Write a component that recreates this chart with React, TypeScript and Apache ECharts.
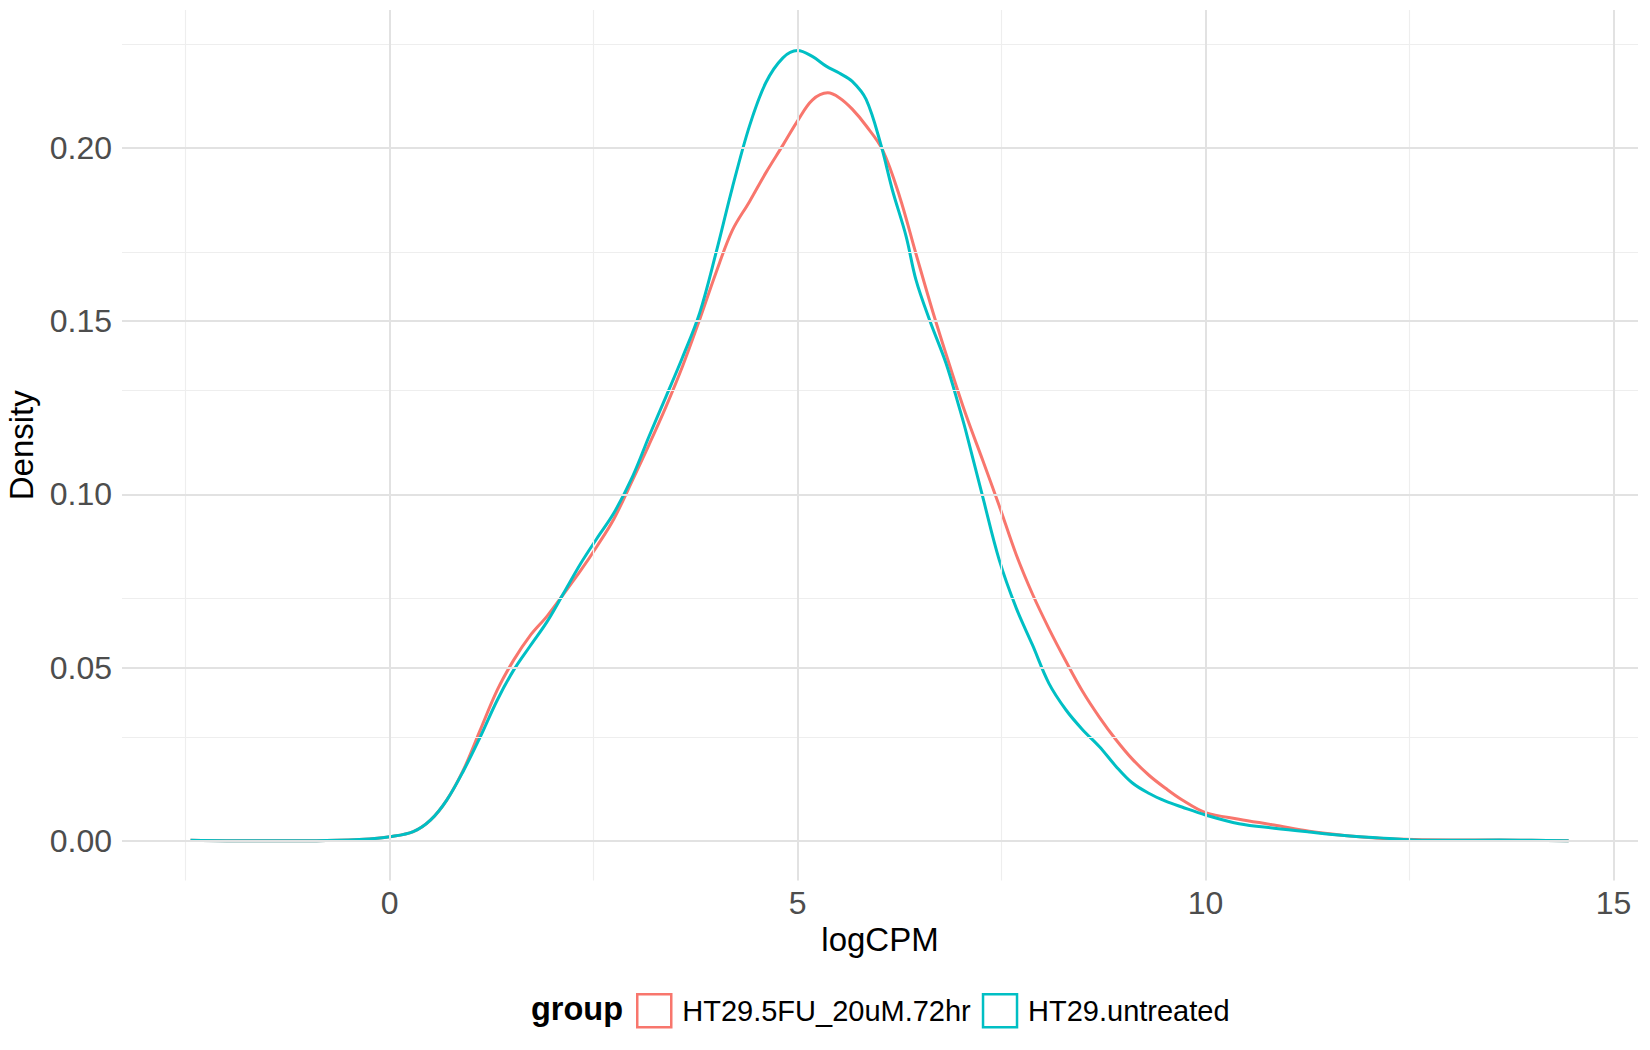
import React, { useEffect, useRef } from 'react';
import * as echarts from 'echarts';

const groups = ['HT29.5FU_20uM.72hr', 'HT29.untreated'];
const groupColors = ['#F8766D', '#00BFC4'];

// HT29.5FU_20uM.72hr density
const fuX = [-2.44, -2.0, -1.5, -1.0, -0.5, -0.25, 0.0, 0.29, 0.5, 0.7, 0.91, 1.11, 1.32, 1.52, 1.72, 1.93, 2.13, 2.34, 2.54, 2.75, 2.98, 3.18, 3.39, 3.59, 3.8, 4.0, 4.2, 4.41, 4.61, 4.82, 5.0, 5.18, 5.37, 5.51, 5.67, 5.84, 6.04, 6.25, 6.45, 6.66, 6.86, 7.06, 7.27, 7.47, 7.68, 7.88, 8.08, 8.29, 8.49, 8.7, 8.9, 9.1, 9.31, 9.51, 9.71, 10.0, 10.41, 10.84, 11.27, 11.7, 12.13, 12.56, 13.0, 13.6, 14.0, 14.45];
const fuY = [0.0002, 0.0001, 0.0001, 0.0001, 0.0003, 0.0006, 0.0012, 0.0027, 0.006, 0.0118, 0.0208, 0.032, 0.0436, 0.0522, 0.0592, 0.0649, 0.0712, 0.078, 0.085, 0.093, 0.1043, 0.1144, 0.1255, 0.137, 0.1505, 0.164, 0.1762, 0.1845, 0.1928, 0.2008, 0.2078, 0.2138, 0.2159, 0.2145, 0.2112, 0.2064, 0.1995, 0.186, 0.1695, 0.1525, 0.1375, 0.1232, 0.1098, 0.0968, 0.0826, 0.0712, 0.0613, 0.0518, 0.0433, 0.0357, 0.0293, 0.0237, 0.0189, 0.0152, 0.0119, 0.0082, 0.0063, 0.0046, 0.0028, 0.0016, 0.0008, 0.0004, 0.0003, 0.0003, 0.0002, 0.0001];

// HT29.untreated density
const utX = [-2.44, -2.0, -1.5, -1.0, -0.5, -0.25, 0.0, 0.29, 0.5, 0.7, 0.91, 1.11, 1.32, 1.52, 1.72, 1.93, 2.13, 2.34, 2.54, 2.75, 2.98, 3.18, 3.39, 3.59, 3.8, 4.0, 4.2, 4.41, 4.61, 4.82, 5.0, 5.18, 5.35, 5.51, 5.67, 5.84, 6.02, 6.16, 6.33, 6.45, 6.62, 6.82, 6.98, 7.06, 7.27, 7.47, 7.68, 7.88, 8.08, 8.29, 8.49, 8.7, 8.9, 9.1, 9.31, 9.51, 9.71, 10.0, 10.41, 10.84, 11.27, 11.7, 12.13, 12.56, 13.0, 13.6, 14.0, 14.45];
const utY = [0.0002, 0.0001, 0.0001, 0.0001, 0.0003, 0.0006, 0.0012, 0.0027, 0.006, 0.0118, 0.0205, 0.03, 0.0407, 0.0493, 0.0562, 0.0633, 0.0714, 0.08, 0.0873, 0.0947, 0.1053, 0.1168, 0.1284, 0.1396, 0.1524, 0.1697, 0.1885, 0.2063, 0.2188, 0.226, 0.2281, 0.2264, 0.2236, 0.2216, 0.2192, 0.214, 0.201, 0.188, 0.1745, 0.162, 0.1502, 0.1378, 0.1252, 0.1185, 0.0992, 0.0812, 0.0672, 0.0565, 0.0455, 0.0378, 0.0322, 0.0272, 0.0216, 0.0168, 0.0137, 0.0115, 0.0098, 0.0075, 0.005, 0.0037, 0.0026, 0.0016, 0.0009, 0.0003, 0.0002, 0.0003, 0.0002, 0.0001];

const xTicks = [0, 5, 10, 15];
const xMinor = [-2.5, 2.5, 7.5, 12.5];
const yTicks = [0, 0.05, 0.1, 0.15, 0.2];
const yMinor = [0.025, 0.075, 0.125, 0.175, 0.225];

const FONT = '"Liberation Sans", Arial, Helvetica, sans-serif';

export default function App() {
  const ref = useRef<HTMLDivElement>(null);
  useEffect(() => {
    if (!ref.current) return;
    const chart = echarts.init(ref.current, undefined, { renderer: 'svg' });
    const major = { color: '#e2e2e2', width: 2, type: 'solid' };
    const minor = { color: '#eeeeee', width: 1.2, type: 'solid' };
    const gridLines = [
      ...xMinor.map((v) => ({ xAxis: v, lineStyle: minor })),
      ...yMinor.map((v) => ({ yAxis: v, lineStyle: minor })),
      ...xTicks.map((v) => ({ xAxis: v, lineStyle: major })),
      ...yTicks.map((v) => ({ yAxis: v, lineStyle: major })),
    ];
    const seriesData = [
      fuX.map((x, i) => [x, fuY[i]]),
      utX.map((x, i) => [x, utY[i]]),
    ];
    chart.setOption({
      animation: false,
      backgroundColor: '#ffffff',
      textStyle: { fontFamily: FONT },
      grid: { left: 122, right: 12, top: 10, bottom: 169.5, containLabel: false, outerBoundsMode: 'none' },
      xAxis: {
        type: 'value',
        min: -3.28,
        max: 15.3,
        splitLine: { show: false },
        axisLine: { show: false },
        axisTick: { show: true, customValues: xTicks, length: 7, lineStyle: { color: '#d6d6d6', width: 1.5 } },
        axisLabel: {
          customValues: xTicks,
          fontSize: 32,
          color: '#4D4D4D',
          margin: 6,
          fontFamily: FONT,
          formatter: (v: number) => String(v),
        },
        name: 'logCPM',
        nameLocation: 'middle',
        nameGap: 40,
        nameTextStyle: { fontSize: 33, color: '#000000', fontFamily: FONT },
      },
      yAxis: {
        type: 'value',
        min: -0.0114,
        max: 0.2398,
        splitLine: { show: false },
        axisLine: { show: false },
        axisTick: { show: true, customValues: yTicks, length: 7, lineStyle: { color: '#d6d6d6', width: 1.5 } },
        axisLabel: {
          customValues: yTicks,
          fontSize: 32,
          color: '#4D4D4D',
          margin: 10,
          fontFamily: FONT,
          formatter: (v: number) => v.toFixed(2),
        },
        name: 'Density',
        nameLocation: 'middle',
        nameGap: 84,
        nameTextStyle: { fontSize: 33, color: '#000000', fontFamily: FONT },
      },
      legend: {
        left: 636,
        top: 993,
        padding: 0,
        orient: 'horizontal',
        itemWidth: 34,
        itemHeight: 33,
        itemGap: 11,
        selectedMode: false,
        textStyle: { fontSize: 29, color: '#000000', fontFamily: FONT, padding: [0, 0, 0, 6] },
        data: groups.map((g, i) => ({
          name: g,
          icon: 'rect',
          itemStyle: { color: '#ffffff', borderColor: groupColors[i], borderWidth: 2.5 },
        })),
      },
      graphic: [
        {
          type: 'text',
          x: 531,
          y: 1009,
          style: {
            text: 'group',
            font: `bold 32.5px ${FONT}`,
            fill: '#000000',
            verticalAlign: 'middle',
            align: 'left',
          },
        },
      ],
      series: [
        {
          type: 'line',
          name: '__grid',
          data: [],
          silent: true,
          z: 1,
          markLine: {
            silent: true,
            symbol: ['none', 'none'],
            label: { show: false },
            emphasis: { disabled: true },
            animation: false,
            data: gridLines,
          },
        },
        ...groups.map((g, i) => ({
          type: 'line',
          name: g,
          data: seriesData[i],
          showSymbol: false,
          smooth: 0.35,
          z: 3,
          lineStyle: { color: groupColors[i], width: 3 },
          itemStyle: { color: groupColors[i] },
          emphasis: { disabled: true },
        })),
      ],
    });
    return () => chart.dispose();
  }, []);
  return (
    <div
      ref={ref}
      style={{ position: 'absolute', left: 0, top: 0, width: 1650, height: 1050, background: '#fff' }}
    />
  );
}
